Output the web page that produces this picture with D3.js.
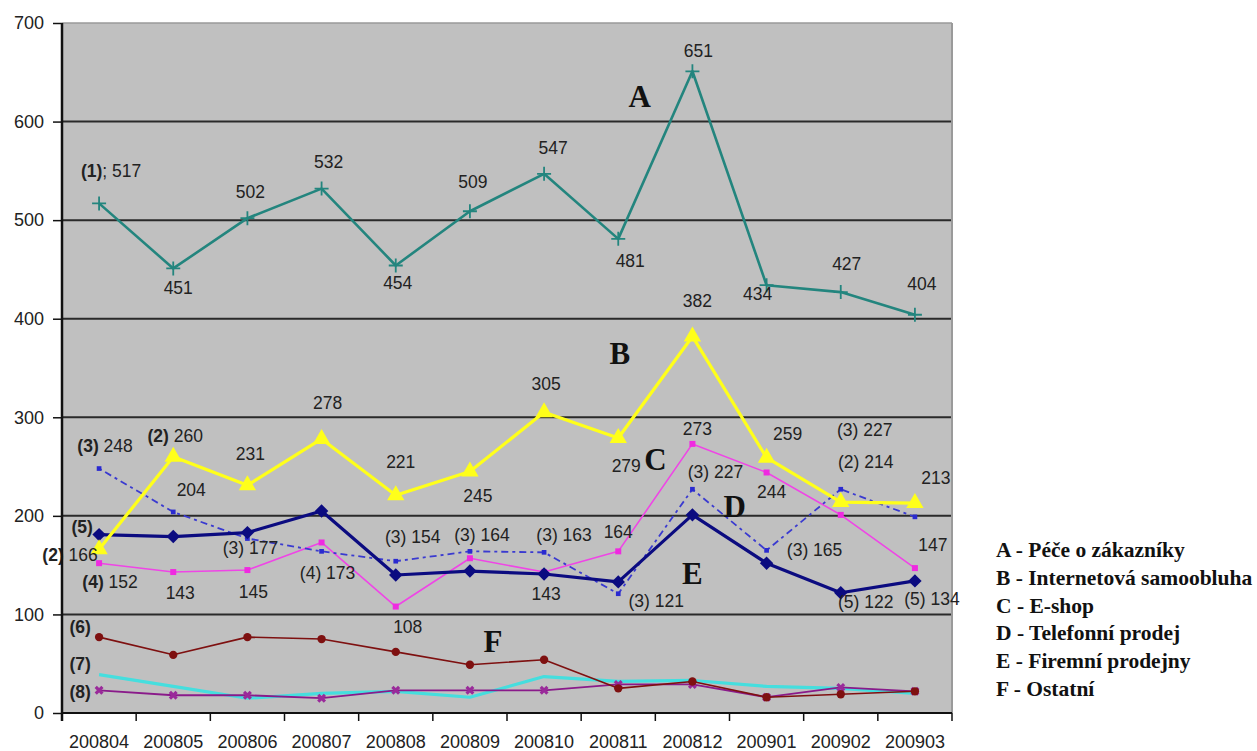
<!DOCTYPE html>
<html>
<head>
<meta charset="utf-8">
<script src="https://cdn.jsdelivr.net/npm/d3@7/dist/d3.min.js"></script>
<style>
  html, body { margin: 0; padding: 0; background: #ffffff; }
  svg { display: block; }
  .tick-label { font-family: "Liberation Sans", Arial, sans-serif; font-size: 18px; fill: #222; }
  .val { font-family: "Liberation Sans", Arial, sans-serif; font-size: 17.5px; fill: #222; }
  .big { font-family: "Liberation Serif", "Times New Roman", serif; font-size: 31px; font-weight: bold; fill: #111; }
  .legend { font-family: "Liberation Serif", "Times New Roman", serif; font-size: 21.5px; font-weight: bold; fill: #111; }
</style>
</head>
<body>
<svg id="chart" width="1257" height="751"></svg>
<script>
// Months (YYYYMM)
const categories = ["200804","200805","200806","200807","200808","200809","200810","200811","200812","200901","200902","200903"];

// Monthly counts per channel
const seriesA  = [517, 451, 502, 532, 454, 509, 547, 481, 651, 434, 427, 404]; // Péče o zákazníky
const seriesB  = [166, 260, 231, 278, 221, 245, 305, 279, 382, 259, 214, 213]; // Internetová samoobluha
const seriesC  = [152, 143, 145, 173, 108, 157, 143, 164, 273, 244, 201, 147]; // E-shop
const seriesD  = [248, 204, 177, 164, 154, 164, 163, 121, 227, 165, 227, 199]; // Telefonní prodej
const seriesE  = [181, 179, 183, 205, 140, 144, 141, 133, 201, 152, 122, 134]; // Firemní prodejny
const seriesF6 = [77, 59, 77, 75, 62, 49, 54, 25, 32, 16, 19, 22];             // Ostatní (6)
const seriesF7 = [39, 27, 15, 20, 22, 16, 37, 32, 33, 27, 25, 20];             // Ostatní (7)
const seriesF8 = [23, 18, 18, 15, 23, 23, 23, 29, 29, 16, 26, 22];             // Ostatní (8)

const yTicks = [0, 100, 200, 300, 400, 500, 600, 700];

const legendItems = [
  "A - Péče o zákazníky",
  "B - Internetová samoobluha",
  "C - E-shop",
  "D - Telefonní prodej",
  "E - Firemní prodejny",
  "F - Ostatní"
];

// ---------------------------------------------------------------
const svg = d3.select("#chart");
const plot = { left: 62, right: 952, top: 23, bottom: 713 };

const x = d3.scaleBand().domain(categories).range([plot.left, plot.right]).padding(0);
const y = d3.scaleLinear().domain([0, 700]).range([plot.bottom, plot.top]);
const cx = c => x(c) + x.bandwidth() / 2;
// fractional category position (for free-floating annotations)
const fx = t => plot.left + (t + 0.5) * x.step();

// plot background
svg.append("rect")
  .attr("x", plot.left).attr("y", plot.top)
  .attr("width", plot.right - plot.left).attr("height", plot.bottom - plot.top)
  .attr("fill", "#c0c0c0");

// horizontal gridlines
svg.append("g").selectAll("line")
  .data(yTicks.filter(v => v < 700))
  .join("line")
  .attr("x1", plot.left).attr("x2", plot.right)
  .attr("y1", d => y(d)).attr("y2", d => y(d))
  .attr("stroke", "#2a2a2a").attr("stroke-width", 2);

// plot frame (top / right)
svg.append("line").attr("x1", plot.left).attr("x2", plot.right)
  .attr("y1", plot.top).attr("y2", plot.top).attr("stroke", "#9a9a9a").attr("stroke-width", 1.5);
svg.append("line").attr("x1", plot.right).attr("x2", plot.right)
  .attr("y1", plot.top).attr("y2", plot.bottom).attr("stroke", "#9a9a9a").attr("stroke-width", 2);

// ---------------- series ----------------
const line = d3.line().x((d, i) => cx(categories[i])).y(d => y(d));

function drawSeries(values, opt) {
  const g = svg.append("g");
  g.append("path")
    .attr("d", line(values))
    .attr("fill", "none")
    .attr("stroke", opt.color)
    .attr("stroke-width", opt.width)
    .attr("stroke-linejoin", "round")
    .attr("stroke-dasharray", opt.dash || null);
  if (opt.marker) {
    const sym = d3.symbol().type(opt.marker).size(opt.markerSize);
    g.selectAll("path.m").data(values).join("path")
      .attr("class", "m")
      .attr("transform", (d, i) => `translate(${cx(categories[i])},${y(d)})` + (opt.rotate ? ` rotate(${opt.rotate})` : ""))
      .attr("d", sym)
      .attr("fill", opt.markerFill || "none")
      .attr("stroke", opt.markerStroke || "none")
      .attr("stroke-width", opt.markerStrokeWidth || 0);
  }
  return g;
}

drawSeries(seriesF7, { color: "#45dede", width: 3.2 });
drawSeries(seriesF8, { color: "#8a1a8a", width: 1.8, marker: d3.symbolCross, markerSize: 50, rotate: 45,
  markerFill: "#9a2a9a" });
drawSeries(seriesF6, { color: "#7e1010", width: 1.6, marker: d3.symbolCircle, markerSize: 55, markerFill: "#7e1010" });
drawSeries(seriesC, { color: "#ef45e6", width: 1.6, marker: d3.symbolSquare, markerSize: 36, markerFill: "#ef2ae0" });
drawSeries(seriesD, { color: "#3a3ad0", width: 1.8, dash: "3,4,7,4", marker: d3.symbolSquare, markerSize: 22,
  markerFill: "#2a2ad0" });
drawSeries(seriesE, { color: "#0b0b80", width: 3.2, marker: d3.symbolSquare, markerSize: 90, rotate: 45,
  markerFill: "#0b0b80" });
drawSeries(seriesB, { color: "#ffff1a", width: 3.2, marker: d3.symbolTriangle, markerSize: 130, markerFill: "#ffff1a" });
drawSeries(seriesA, { color: "#23857e", width: 2.6 });

// teal "+" markers for series A
svg.append("g").selectAll("path").data(seriesA).join("path")
  .attr("d", (d, i) => {
    const px = cx(categories[i]), py = y(d);
    return `M${px - 7},${py}H${px + 7}M${px},${py - 7}V${py + 7}`;
  })
  .attr("stroke", "#23857e").attr("stroke-width", 1.8);

// ---------------- value labels ----------------
const seriesByKey = { A: seriesA, B: seriesB, C: seriesC, D: seriesD, E: seriesE, F6: seriesF6, F7: seriesF7, F8: seriesF8 };

// [series, index, prefix, prefixBold, showValue, dx, dy, separator]
const labelPlacement = [
  ["A", 0, "(1)", true, true, 12, -32, ";"],
  ["A", 1, "", false, true, 5, 20],
  ["A", 2, "", false, true, 3, -26],
  ["A", 3, "", false, true, 7, -27],
  ["A", 4, "", false, true, 2, 18],
  ["A", 5, "", false, true, 3, -29],
  ["A", 6, "", false, true, 9, -26],
  ["A", 7, "", false, true, 12, 22],
  ["A", 8, "", false, true, 6, -20],
  ["A", 9, "", false, true, -9, 9],
  ["A", 10, "", false, true, 6, -28],
  ["A", 11, "", false, true, 7, -31],

  ["B", 0, "(2)", true, true, -29, 6],
  ["B", 1, "(2)", true, true, 2, -21],
  ["B", 2, "", false, true, 3, -31],
  ["B", 3, "", false, true, 6, -36],
  ["B", 4, "", false, true, 5, -33],
  ["B", 5, "", false, true, 8, 24],
  ["B", 6, "", false, true, 2, -28],
  ["B", 7, "", false, true, 8, 28],
  ["B", 8, "", false, true, 5, -35],
  ["B", 9, "", false, true, 21, -24],
  ["B", 10, "(2)", false, true, 25, -40],
  ["B", 11, "", false, true, 21, -25],

  ["C", 0, "(4)", true, true, 11, 19],
  ["C", 1, "", false, true, 7, 21],
  ["C", 2, "", false, true, 6, 22],
  ["C", 3, "(4)", false, true, 6, 31],
  ["C", 4, "", false, true, 12, 20],
  ["C", 6, "", false, true, 2, 22],
  ["C", 7, "", false, true, 0, -19],
  ["C", 8, "", false, true, 5, -15],
  ["C", 9, "", false, true, 5, 20],
  ["C", 11, "", false, true, 18, -23],

  ["D", 0, "(3)", true, true, 6, -23],
  ["D", 1, "", false, true, 18, -22],
  ["D", 2, "(3)", false, true, 3, 9],
  ["D", 4, "(3)", false, true, 17, -24],
  ["D", 5, "(3)", false, true, 12, -16],
  ["D", 6, "(3)", false, true, 20, -17],
  ["D", 7, "(3)", false, true, 38, 7],
  ["D", 8, "(3)", false, true, 23, -17],
  ["D", 9, "(3)", false, true, 48, 0],
  ["D", 10, "(3)", false, true, 24, -59],

  ["E", 0, "(5)", true, false, -17, -8],
  ["E", 10, "(5)", false, true, 25, 9],
  ["E", 11, "(5)", false, true, 17, 18],

  ["F6", 0, "(6)", true, false, -19, -10],
  ["F7", 0, "(7)", true, false, -19, -11],
  ["F8", 0, "(8)", true, false, -19, 2]
];

const labels = svg.append("g");
labelPlacement.forEach(([key, i, pre, bold, showVal, dx, dy, sep]) => {
  const v = seriesByKey[key][i];
  const t = labels.append("text")
    .attr("class", "val")
    .attr("x", cx(categories[i]) + dx)
    .attr("y", y(v) + dy)
    .attr("text-anchor", "middle")
    .attr("dominant-baseline", "central");
  if (pre) t.append("tspan").attr("font-weight", bold ? "bold" : "normal").text(pre);
  if (sep) t.append("tspan").text(sep);
  if (showVal) t.append("tspan").text((pre ? " " : "") + v);
});

// ---------------- channel letters ----------------
const letterAnchors = [
  ["A", 7.29, 625], ["B", 7.02, 365], ["C", 7.5, 257],
  ["D", 8.57, 209], ["E", 8.0, 142], ["F", 5.31, 73]
];
svg.append("g").selectAll("text").data(letterAnchors).join("text")
  .attr("class", "big")
  .attr("x", d => fx(d[1])).attr("y", d => y(d[2]))
  .attr("text-anchor", "middle").attr("dominant-baseline", "central")
  .text(d => d[0]);

// ---------------- axes ----------------
const yAxis = d3.axisLeft(y).tickValues(yTicks).tickSize(9).tickPadding(9).tickFormat(d3.format("d"));
const gy = svg.append("g").attr("transform", `translate(${plot.left},0)`).call(yAxis);
gy.select(".domain").remove();
gy.selectAll(".tick line").attr("stroke", "#111").attr("stroke-width", 1.5);
gy.selectAll(".tick text").attr("class", "tick-label").attr("font-size", null).attr("font-family", null);

const xAxis = d3.axisBottom(x).tickSize(0).tickPadding(22);
const gx = svg.append("g").attr("transform", `translate(0,${plot.bottom})`).call(xAxis);
gx.select(".domain").remove();
gx.selectAll(".tick text").attr("class", "tick-label").attr("font-size", null).attr("font-family", null);

// x tick marks at category boundaries
const bounds = categories.map(c => x(c)).concat([plot.right]);
svg.append("g").selectAll("line").data(bounds).join("line")
  .attr("x1", d => d).attr("x2", d => d)
  .attr("y1", plot.bottom).attr("y2", plot.bottom + 8)
  .attr("stroke", "#111").attr("stroke-width", 1.5);

// value axis line
svg.append("line").attr("x1", plot.left).attr("x2", plot.left)
  .attr("y1", plot.top).attr("y2", plot.bottom + 8)
  .attr("stroke", "#111").attr("stroke-width", 2.5);
// category axis line
svg.append("line").attr("x1", plot.left).attr("x2", plot.right)
  .attr("y1", plot.bottom).attr("y2", plot.bottom)
  .attr("stroke", "#111").attr("stroke-width", 2);

// ---------------- legend ----------------
svg.append("g").selectAll("text").data(legendItems).join("text")
  .attr("class", "legend")
  .attr("x", 996)
  .attr("y", (d, i) => 550 + i * 27.8)
  .attr("dominant-baseline", "central")
  .text(d => d);
</script>
</body>
</html>
